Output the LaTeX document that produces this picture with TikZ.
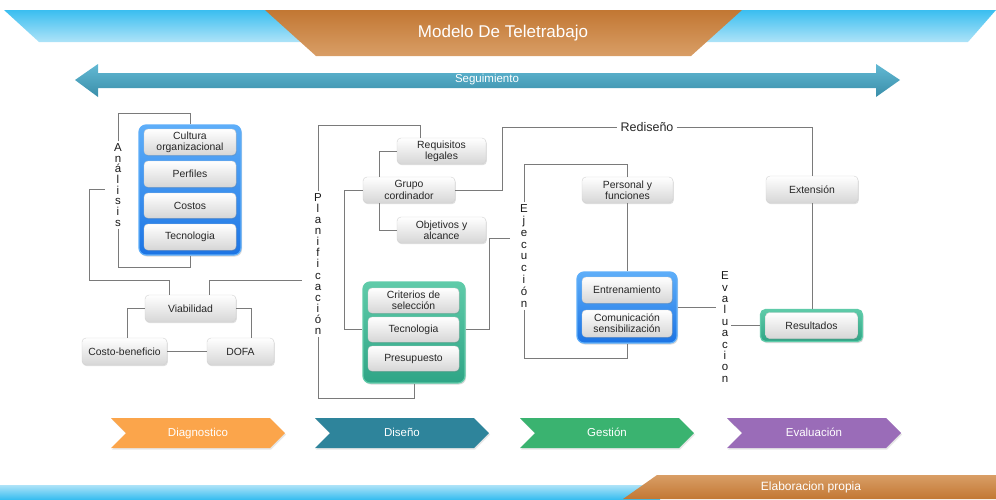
\documentclass[tikz,border=0pt]{standalone}
\usepackage{fontspec}
\setmainfont{Liberation Sans}
\usetikzlibrary{shapes.symbols,shadows}

\definecolor{cielo}{HTML}{3ABEF0}
\definecolor{cieloclaro}{HTML}{AEE3F8}
\definecolor{cobre}{HTML}{C27733}
\definecolor{cobreclaro}{HTML}{D99E66}
\definecolor{flecha}{HTML}{62B9D4}
\definecolor{flechaosc}{HTML}{3A8EA9}
\definecolor{azulcaja}{HTML}{1C74E4}
\definecolor{azulborde}{HTML}{5EAEF9}
\definecolor{verdecaja}{HTML}{2FA586}
\definecolor{verdeborde}{HTML}{5FCBA9}
\definecolor{naranja}{HTML}{FBA54B}
\definecolor{petroleo}{HTML}{2E849B}
\definecolor{verdefase}{HTML}{3AB370}
\definecolor{morado}{HTML}{9A6CB8}
\definecolor{linea}{HTML}{7A7A7A}
\definecolor{texto}{HTML}{262626}

\begin{document}
\begin{tikzpicture}[x=1pt,y=-1pt,
		caja/.style={rounded corners=4pt, top color=white, bottom color=black!16, draw=black!18, text=texto,
			font=\fontsize{10.4}{11.2}\selectfont, align=center, inner sep=0pt,
			drop shadow={shadow xshift=0.8pt, shadow yshift=-1.2pt, opacity=0.25}},
		bloque/.style={rounded corners=7pt, top color=#1borde, bottom color=#1caja, draw=#1borde, line width=1.2pt,
			drop shadow={shadow xshift=1pt, shadow yshift=-1.5pt, opacity=0.3}},
		vtexto/.style={align=center, inner sep=2pt, text=black!90, font=\fontsize{11.5}{#1}\selectfont},
		conector/.style={draw=linea, line width=0.7pt},
		fase/.style={signal, signal to=east, signal from=west, minimum width=174pt, minimum height=30pt,
			inner sep=0pt, text height=8.5pt, text depth=2.5pt, fill=#1, text=white, font=\fontsize{11.5}{13}\selectfont,
			drop shadow={shadow xshift=1pt, shadow yshift=-1.5pt, opacity=0.2}},
		blanco/.style={text=white, inner sep=0pt}
	]
		\useasboundingbox (0,0) rectangle (996,499);

		% franja superior
		\shade [top color=cielo, bottom color=cieloclaro] (4,10) -- (996,10) -- (968,42) -- (39,42) -- cycle;
		\shade [top color=cobre, bottom color=cobreclaro] (265,10) -- (742,10) -- (691,56) -- (316,56) -- cycle;
		\node [blanco, font=\fontsize{17}{19}\selectfont] (modelo) at (503,33) {Modelo De Teletrabajo};

		% seguimiento
		\shade [top color=flecha, bottom color=flechaosc] (75,80) -- (98,64) -- (98,73) -- (876,73) -- (876,64) -- (900,80)
			-- (876,97) -- (876,88) -- (98,88) -- (98,97) -- cycle;
		\node [blanco, font=\fontsize{11.5}{13}\selectfont] (seguimiento) at (487,80) {Seguimiento};

		% diagnostico
		\node [bloque=azul, minimum width=102pt, minimum height=130pt] (azul) at (190,190) {};
		\node [caja, minimum width=92pt, minimum height=26pt] (cultura) at (190,142) {Cultura\\organizacional};
		\node [caja, minimum width=92pt, minimum height=26pt] (perfiles) at (190,174) {Perfiles};
		\node [caja, minimum width=92pt, minimum height=25pt] (costos) at (190,205.5) {Costos};
		\node [caja, minimum width=92pt, minimum height=26pt] (tecno) at (190,237) {Tecnologia};
		\node [vtexto=10.7] (analisis) at (118,185) {A\\n\\á\\l\\i\\s\\i\\s};
		\node [caja, minimum width=91pt, minimum height=27pt] (viab) at (190.5,308.5) {Viabilidad};
		\node [caja, minimum width=85pt, minimum height=27pt] (costo) at (124.5,351.5) {Costo-beneficio};
		\node [caja, minimum width=67pt, minimum height=27pt] (dofa) at (240.5,351.5) {DOFA};
		\coordinate (pv) at (302,280);

		\draw [conector] (analisis.north) -- (118,113) -| (azul.north);
		\draw [conector] (analisis.south) -- (118,267) -| (azul.south);
		\draw [conector] ([xshift=-7pt,yshift=-4pt]analisis.west) -| (89,280) -| ([xshift=-21pt]viab.north);
		\draw [conector] ([xshift=19pt]viab.north) |- (pv);
		\draw [conector] (viab.west) -| ([xshift=3pt]costo.north);
		\draw [conector] (viab.east) -| ([xshift=11pt]dofa.north);
		\draw [conector] (costo) -- (dofa);

		% diseno
		\node [vtexto=11.1] (planif) at (318,264) {P\\l\\a\\n\\i\\f\\i\\c\\a\\c\\i\\ó\\n};
		\node [caja, minimum width=89pt, minimum height=26pt] (req) at (441.5,151) {Requisitos\\legales};
		\node [caja, minimum width=92pt, minimum height=26pt] (grupo) at (409,190) {Grupo\\cordinador};
		\node [caja, minimum width=89pt, minimum height=26pt] (obj) at (441.5,230) {Objetivos y\\alcance};
		\node [bloque=verde, minimum width=102pt, minimum height=101pt] (verde) at (414,332.5) {};
		\node [caja, minimum width=91pt, minimum height=25pt] (crit) at (413.5,300.5) {Criterios de\\selección};
		\node [caja, minimum width=91pt, minimum height=25pt] (tec2) at (413.5,329.5) {Tecnologia};
		\node [caja, minimum width=91pt, minimum height=25pt] (presu) at (413.5,358.5) {Presupuesto};
		\node [inner sep=3pt, text=black!85, font=\fontsize{12.5}{14}\selectfont] (rediseno) at (647,127) {Rediseño};
		\coordinate (pe) at (510,238);

		\draw [conector] (planif.north) -- (318,125) -| ([xshift=-21pt]req.north);
		\draw [conector] (planif.south) -- (318,398) -| (verde.south);
		\draw [conector] ([xshift=-30pt]grupo.north) |- (req.west);
		\draw [conector] ([xshift=-30pt]grupo.south) |- (obj.west);
		\draw [conector] (grupo.west) -- (344,190) |- (verde.west |- tec2.center);
		\draw [conector] (grupo.east) -- (502,190) |- (rediseno.west);
		\draw [conector] (verde.east |- tec2.center) -- (489,329.5) |- (pe);

		% gestion
		\node [vtexto=11.9] (ejec) at (524,256) {E\\j\\e\\c\\u\\c\\i\\ó\\n};
		\node [caja, minimum width=91pt, minimum height=26pt] (pers) at (627.5,190) {Personal y\\funciones};
		\node [bloque=azul, minimum width=100pt, minimum height=71pt] (azul2) at (627,307.5) {};
		\node [caja, minimum width=90pt, minimum height=26pt] (entre) at (627,290) {Entrenamiento};
		\node [caja, minimum width=90pt, minimum height=27pt] (comun) at (627,323.5) {Comunicación\\sensibilización};
		\coordinate (pev) at (716,307.5);

		\draw [conector] (ejec.north) -- (524,164) -| (pers.north);
		\draw [conector] (ejec.south) -- (524,358) -| (azul2.south);
		\draw [conector] (pers.south) -- (pers.south |- azul2.north);
		\draw [conector] (azul2.east) -- (pev);

		% evaluacion
		\node [vtexto=11.4] (evalua) at (725,327) {E\\v\\a\\l\\u\\a\\c\\i\\o\\n};
		\node [caja, minimum width=92pt, minimum height=27pt] (ext) at (812,189.5) {Extensión};
		\node [bloque=verde, rounded corners=5pt, minimum width=102pt, minimum height=32pt] (marco) at (811.5,325.5) {};
		\node [caja, minimum width=92pt, minimum height=26pt] (resul) at (811.5,325.5) {Resultados};

		\draw [conector] (rediseno.east) -| (ext.north);
		\draw [conector] (ext.south) -- (ext.south |- marco.north);
		\draw [conector] (evalua.east |- marco.west) -- (marco.west);

		% fases
		\node [fase=naranja] (diag) at (198,433) {Diagnostico};
		\node [fase=petroleo] (diseno) at (402,433) {Diseño};
		\node [fase=verdefase] (gestion) at (607,433) {Gestión};
		\node [fase=morado] (evaluacion) at (814,433) {Evaluación};

		% franja inferior
		\shade [top color=cieloclaro, bottom color=cielo] (0,485) rectangle (660,499);
		\shade [top color=cobreclaro, bottom color=cobre] (657,475) -- (996,475) -- (996,499) -- (623,499) -- cycle;
		\node [blanco, font=\fontsize{12}{13}\selectfont] (elaboracion) at (811,487) {Elaboracion propia};
	\end{tikzpicture}
\end{document}
